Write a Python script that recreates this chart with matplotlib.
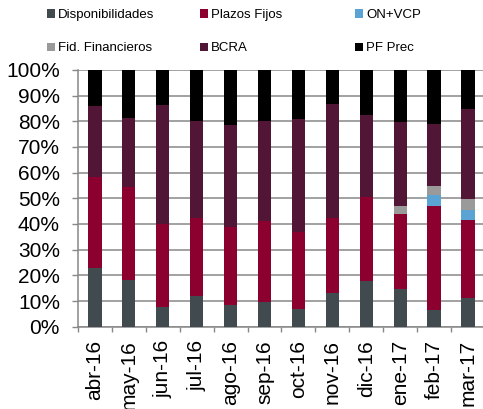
import matplotlib.pyplot as plt
import numpy as np

plt.rcParams['font.family'] = ['Liberation Sans', 'DejaVu Sans']

meses = ["abr-16", "may-16", "jun-16", "jul-16", "ago-16", "sep-16",
         "oct-16", "nov-16", "dic-16", "ene-17", "feb-17", "mar-17"]

# shares in %
disponibilidades = [22.7, 18.1, 7.8, 11.8, 8.5, 9.5, 6.8, 13.0, 17.8, 14.8, 6.4, 11.2]
plazos_fijos = [35.5, 36.1, 32.1, 30.7, 30.2, 31.8, 30.1, 29.2, 32.8, 29.0, 40.5, 30.4]
on_vcp = [0, 0, 0, 0, 0, 0, 0, 0, 0, 0, 4.5, 3.7]
fid_financieros = [0, 0, 0, 0, 0, 0, 0, 0, 0, 3.3, 3.4, 4.4]
bcra = [27.8, 27.1, 46.3, 37.5, 39.7, 38.8, 44.1, 44.4, 31.9, 32.6, 24.0, 35.0]
pf_prec = [14.0, 18.7, 13.8, 20.0, 21.6, 19.9, 19.0, 13.4, 17.5, 20.3, 21.2, 15.3]

series = [
    ("Disponibilidades", disponibilidades, "#414a4f"),
    ("Plazos Fijos", plazos_fijos, "#8c0030"),
    ("ON+VCP", on_vcp, "#5ba3d2"),
    ("Fid. Financieros", fid_financieros, "#9a9a9a"),
    ("BCRA", bcra, "#511536"),
    ("PF Prec", pf_prec, "#000000"),
]

fig = plt.figure(figsize=(4.83, 4.09), dpi=100)
ax = fig.add_axes([0.1615, 0.2012, 0.8425, 0.628])

x = np.arange(len(meses))
bottom = np.zeros(len(meses))
handles = {}
for name, vals, color in series:
    vals = np.array(vals, dtype=float)
    b = ax.bar(x, vals, width=0.39, bottom=bottom, color=color, linewidth=0, zorder=3)
    handles[name] = b
    bottom += vals

ax.set_xlim(-0.5, len(meses) - 0.5)
ax.set_ylim(0, 100)
ax.set_yticks(np.arange(0, 101, 10))
ax.set_yticklabels([f"{v}%" for v in range(0, 101, 10)], fontsize=15)
ax.set_xticks(x)
ax.set_xticklabels(meses, rotation=90, fontsize=15)
ax.set_xticks(np.arange(-0.5, len(meses), 1), minor=True)
ax.tick_params(axis='x', which='major', length=0, pad=9.5)
ax.tick_params(axis='x', which='minor', length=3.6, color='#888888', width=1)
ax.tick_params(axis='y', length=4.5, color='#888888', width=1, pad=8.5)

ax.yaxis.grid(True, color='#888888', linewidth=1.1, zorder=0)
for s in ['top', 'right']:
    ax.spines[s].set_visible(False)
for s in ['left', 'bottom']:
    ax.spines[s].set_color('#888888')
    ax.spines[s].set_linewidth(1.1)

# legend: 3 columns x 2 rows
cols = [["Disponibilidades", "Fid. Financieros"],
        ["Plazos Fijos", "BCRA"],
        ["ON+VCP", "PF Prec"]]
col_x = [0.089, 0.406, 0.727]
for names, cx in zip(cols, col_x):
    fig.legend([handles[n] for n in names], names, loc='upper left',
               bbox_to_anchor=(cx, 0.987), frameon=False, fontsize=9.5,
               handlelength=0.6, handleheight=0.6, handletextpad=0.25,
               labelspacing=1.6, borderaxespad=0, borderpad=0.3)

fig.savefig("out.png", dpi=100)
